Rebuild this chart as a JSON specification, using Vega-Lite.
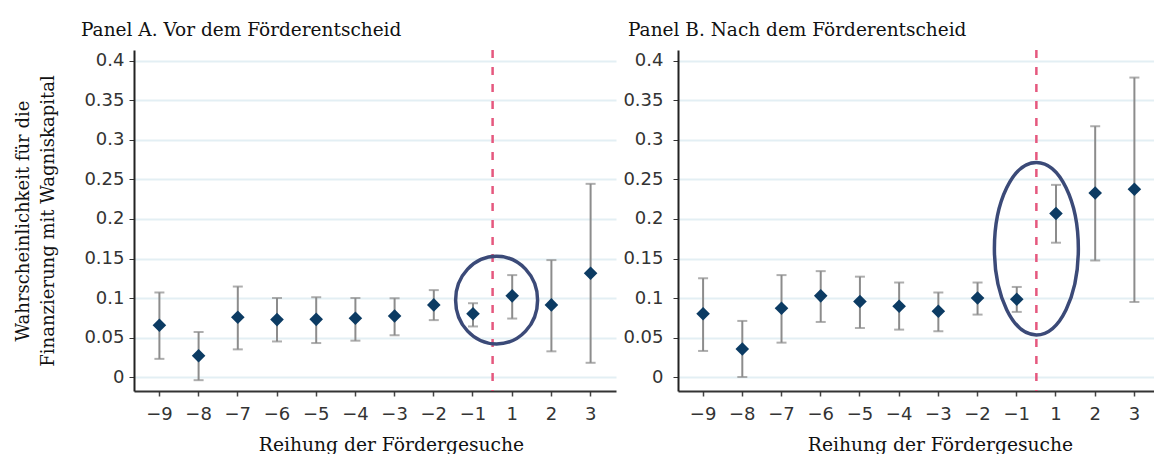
{
  "$schema": "https://vega.github.io/schema/vega-lite/v6.json",
  "background": "white",
  "padding": {"left": 14, "top": 21, "right": 0, "bottom": 0},
  "spacing": 6,
  "datasets": {
    "est": [
      {"panel": "A", "rank": -9, "est": 0.0655, "lo": 0.023, "hi": 0.107},
      {"panel": "A", "rank": -8, "est": 0.027, "lo": -0.004, "hi": 0.057},
      {"panel": "A", "rank": -7, "est": 0.0757, "lo": 0.035, "hi": 0.1145},
      {"panel": "A", "rank": -6, "est": 0.0727, "lo": 0.045, "hi": 0.1},
      {"panel": "A", "rank": -5, "est": 0.073, "lo": 0.043, "hi": 0.101},
      {"panel": "A", "rank": -4, "est": 0.0744, "lo": 0.046, "hi": 0.1},
      {"panel": "A", "rank": -3, "est": 0.0773, "lo": 0.053, "hi": 0.0997},
      {"panel": "A", "rank": -2, "est": 0.0913, "lo": 0.072, "hi": 0.11},
      {"panel": "A", "rank": -1, "est": 0.08, "lo": 0.064, "hi": 0.0934},
      {"panel": "A", "rank": 1, "est": 0.1027, "lo": 0.074, "hi": 0.129},
      {"panel": "A", "rank": 2, "est": 0.0913, "lo": 0.0325, "hi": 0.148},
      {"panel": "A", "rank": 3, "est": 0.1314, "lo": 0.018, "hi": 0.2445},
      {"panel": "B", "rank": -9, "est": 0.08, "lo": 0.033, "hi": 0.125},
      {"panel": "B", "rank": -8, "est": 0.0355, "lo": 0.0, "hi": 0.071},
      {"panel": "B", "rank": -7, "est": 0.087, "lo": 0.0435, "hi": 0.129},
      {"panel": "B", "rank": -6, "est": 0.1027, "lo": 0.0697, "hi": 0.134},
      {"panel": "B", "rank": -5, "est": 0.0955, "lo": 0.062, "hi": 0.127},
      {"panel": "B", "rank": -4, "est": 0.0896, "lo": 0.06, "hi": 0.1196},
      {"panel": "B", "rank": -3, "est": 0.0833, "lo": 0.058, "hi": 0.107},
      {"panel": "B", "rank": -2, "est": 0.1, "lo": 0.079, "hi": 0.1196},
      {"panel": "B", "rank": -1, "est": 0.0985, "lo": 0.0824, "hi": 0.114},
      {"panel": "B", "rank": 1, "est": 0.207, "lo": 0.17, "hi": 0.2432},
      {"panel": "B", "rank": 2, "est": 0.233, "lo": 0.1475, "hi": 0.3174},
      {"panel": "B", "rank": 3, "est": 0.2377, "lo": 0.095, "hi": 0.379}
    ],
    "circles": [
      {"panel": "A", "rank": 1, "value": 0.0973},
      {"panel": "B", "rank": 1, "value": 0.1624}
    ]
  },
  "config": {
    "view": {"stroke": null},
    "axis": {
      "labelFont": "DejaVu Sans",
      "labelFontSize": 18,
      "labelColor": "#333333",
      "titleFont": "DejaVu Serif",
      "titleFontSize": 18.7,
      "titleFontWeight": "normal",
      "titleColor": "#111111"
    }
  },
  "hconcat": [
    {
      "width": 482,
      "height": 341,
      "title": {"text": "Panel A. Vor dem Förderentscheid", "anchor": "start", "frame": "group", "dx": -53, "baseline": "alphabetic", "offset": -6, "font": "DejaVu Serif", "fontSize": 18.5, "fontWeight": "normal", "color": "#111111"},
      "layer": [
        {
          "data": {"name": "est"},
          "transform": [{"filter": "datum.panel === 'A'"}],
          "mark": {"type": "rule", "color": "#8c8c8c", "strokeWidth": 2},
          "encoding": {
            "x": {"field": "rank", "type": "ordinal", "scale": {"type": "band", "paddingInner": 0, "paddingOuter": 0.148},
              "axis": {"title": "Reihung der Fördergesuche", "labelExpr": "replace(datum.label, '-', '−')", "labelAngle": 0, "grid": false, "domainColor": "#333333", "domainWidth": 2, "tickColor": "#444444", "tickSize": 5, "tickWidth": 1.5, "labelPadding": 9, "titleX": 257, "titleBaseline": "alphabetic", "titlePadding": 27}},
            "y": {"field": "lo", "type": "quantitative", "scale": {"domain": [-0.0177, 0.4139], "nice": false, "zero": false},
              "axis": {"title": ["Wahrscheinlichkeit für die", "Finanzierung mit Wagniskapital"], "titleFontSize": 18, "titleLineHeight": 25, "titlePadding": 26, "values": [0, 0.05, 0.1, 0.15, 0.2, 0.25, 0.3, 0.35, 0.4], "format": "~g", "grid": true, "gridColor": "#e3eff4", "gridWidth": 2, "domainColor": "#222222", "domainWidth": 2, "tickSize": 5, "tickColor": "#333333", "labelPadding": 5}},
            "y2": {"field": "hi"}
          }
        },
        {
          "data": {"name": "est"},
          "transform": [{"filter": "datum.panel === 'A'"}],
          "mark": {"type": "tick", "color": "#8c8c8c", "thickness": 2, "size": 10},
          "encoding": {"x": {"field": "rank", "type": "ordinal"}, "y": {"field": "lo", "type": "quantitative"}}
        },
        {
          "data": {"name": "est"},
          "transform": [{"filter": "datum.panel === 'A'"}],
          "mark": {"type": "tick", "color": "#8c8c8c", "thickness": 2, "size": 10},
          "encoding": {"x": {"field": "rank", "type": "ordinal"}, "y": {"field": "hi", "type": "quantitative"}}
        },
        {
          "data": {"name": "est"},
          "transform": [{"filter": "datum.panel === 'A'"}],
          "mark": {"type": "point", "shape": "diamond", "filled": true, "color": "#0c3b63", "size": 185, "opacity": 1},
          "encoding": {"x": {"field": "rank", "type": "ordinal"}, "y": {"field": "est", "type": "quantitative"}}
        },
        {
          "data": {"name": "circles"},
          "transform": [{"filter": "datum.panel === 'A'"}],
          "mark": {"type": "rule", "color": "#e5587e", "strokeWidth": 2.5, "strokeDash": [8, 9]},
          "encoding": {"x": {"field": "rank", "type": "ordinal", "bandPosition": 0}}
        },
        {
          "data": {"name": "circles"},
          "transform": [{"filter": "datum.panel === 'A'"}],
          "mark": {"type": "point", "shape": "M -0.936 0 A 0.936 1 0 1 1 0.936 0 A 0.936 1 0 1 1 -0.936 0 Z", "size": 7674, "filled": false, "stroke": "#3b4a78", "strokeWidth": 3.5, "opacity": 1, "xOffset": 4},
          "encoding": {"x": {"field": "rank", "type": "ordinal", "bandPosition": 0}, "y": {"field": "value", "type": "quantitative"}}
        }
      ]
    },
    {
      "width": 476,
      "height": 341,
      "title": {"text": "Panel B. Nach dem Förderentscheid", "anchor": "start", "frame": "group", "dx": -50, "baseline": "alphabetic", "offset": -6, "font": "DejaVu Serif", "fontSize": 18.5, "fontWeight": "normal", "color": "#111111"},
      "layer": [
        {
          "data": {"name": "est"},
          "transform": [{"filter": "datum.panel === 'B'"}],
          "mark": {"type": "rule", "color": "#8c8c8c", "strokeWidth": 2},
          "encoding": {
            "x": {"field": "rank", "type": "ordinal", "scale": {"type": "band", "paddingInner": 0, "paddingOuter": 0.07, "align": 1},
              "axis": {"title": "Reihung der Fördergesuche", "labelExpr": "replace(datum.label, '-', '−')", "labelAngle": 0, "grid": false, "domainColor": "#333333", "domainWidth": 2, "tickColor": "#444444", "tickSize": 5, "tickWidth": 1.5, "labelPadding": 9, "titleX": 262, "titleBaseline": "alphabetic", "titlePadding": 27}},
            "y": {"field": "lo", "type": "quantitative", "scale": {"domain": [-0.0177, 0.4139], "nice": false, "zero": false},
              "axis": {"title": null, "values": [0, 0.05, 0.1, 0.15, 0.2, 0.25, 0.3, 0.35, 0.4], "format": "~g", "grid": true, "gridColor": "#e3eff4", "gridWidth": 2, "domainColor": "#222222", "domainWidth": 2, "tickSize": 5, "tickColor": "#333333", "labelPadding": 10}},
            "y2": {"field": "hi"}
          }
        },
        {
          "data": {"name": "est"},
          "transform": [{"filter": "datum.panel === 'B'"}],
          "mark": {"type": "tick", "color": "#8c8c8c", "thickness": 2, "size": 10},
          "encoding": {"x": {"field": "rank", "type": "ordinal"}, "y": {"field": "lo", "type": "quantitative"}}
        },
        {
          "data": {"name": "est"},
          "transform": [{"filter": "datum.panel === 'B'"}],
          "mark": {"type": "tick", "color": "#8c8c8c", "thickness": 2, "size": 10},
          "encoding": {"x": {"field": "rank", "type": "ordinal"}, "y": {"field": "hi", "type": "quantitative"}}
        },
        {
          "data": {"name": "est"},
          "transform": [{"filter": "datum.panel === 'B'"}],
          "mark": {"type": "point", "shape": "diamond", "filled": true, "color": "#0c3b63", "size": 185, "opacity": 1},
          "encoding": {"x": {"field": "rank", "type": "ordinal"}, "y": {"field": "est", "type": "quantitative"}}
        },
        {
          "data": {"name": "circles"},
          "transform": [{"filter": "datum.panel === 'B'"}],
          "mark": {"type": "rule", "color": "#e5587e", "strokeWidth": 2.5, "strokeDash": [8, 9]},
          "encoding": {"x": {"field": "rank", "type": "ordinal", "bandPosition": 0}}
        },
        {
          "data": {"name": "circles"},
          "transform": [{"filter": "datum.panel === 'B'"}],
          "mark": {"type": "point", "shape": "M -0.487 0 A 0.487 1 0 1 1 0.487 0 A 0.487 1 0 1 1 -0.487 0 Z", "size": 29722, "filled": false, "stroke": "#3b4a78", "strokeWidth": 3.5, "opacity": 1},
          "encoding": {"x": {"field": "rank", "type": "ordinal", "bandPosition": 0}, "y": {"field": "value", "type": "quantitative"}}
        }
      ]
    }
  ]
}
